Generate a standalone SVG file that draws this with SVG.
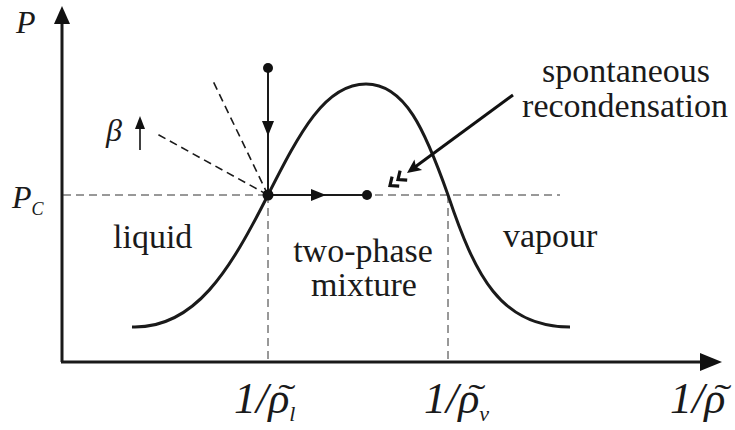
<svg xmlns="http://www.w3.org/2000/svg" width="735" height="430" viewBox="0 0 735 430">
<style>
.t{font-family:"Liberation Serif","Times New Roman",serif;font-size:34px;fill:#1a1a1a}
.m{font-family:"Liberation Serif","Times New Roman",serif;font-style:italic;fill:#1a1a1a}
.ax{stroke:#1a1a1a;stroke-width:3;fill:none}
.dash{stroke:#333;stroke-width:1;stroke-dasharray:8 5;fill:none}
.bdash{stroke:#1a1a1a;stroke-width:1.6;stroke-dasharray:8 5;fill:none}
.ln{stroke:#1a1a1a;stroke-width:2;fill:none}
.dot{fill:#111}
.head{fill:#111}
.chev{stroke:#111;stroke-width:3.2;fill:none;stroke-linejoin:miter}
</style>
<rect width="735" height="430" fill="#fff"/>
<g id="axes">
<line class="ax" x1="62" y1="362" x2="62" y2="22"/>
<polygon class="head" points="62,6 54,24 70,24"/>
<line class="ax" x1="61" y1="362" x2="702" y2="362"/>
<polygon class="head" points="722,362 700,353 700,371"/>
</g>
<g id="guides">
<line class="dash" x1="63" y1="195" x2="560" y2="195"/>
<line class="dash" x1="268" y1="195" x2="268" y2="362"/>
<line class="dash" x1="448" y1="195" x2="448" y2="362"/>
<line class="bdash" x1="268" y1="195" x2="213" y2="81"/>
<line class="bdash" x1="268" y1="195" x2="157" y2="134"/>
</g>
<g id="curve">
<path d="M132,327 C195,329 230,270 268,195 C300,132 325,84 366,84 C405,84 425,130 448,195 C475,275 500,327 570,327" stroke="#1a1a1a" stroke-width="3" fill="none"/>
</g>
<g id="connectors">
<line class="ln" x1="268" y1="68" x2="268" y2="195"/>
<polygon class="head" points="268,136 262,121 274,121"/>
<line class="ln" x1="268" y1="195" x2="367" y2="195"/>
<polygon class="head" points="326,195 311,189 311,201"/>
<line x1="513" y1="95" x2="415" y2="167" stroke="#111" stroke-width="3"/>
<polygon class="head" points="0,0 -14,-6.5 -11,0 -14,6.5" transform="translate(407,173) rotate(143.7)"/>
<polyline class="chev" points="-7,-6 0,0 -7,6" transform="translate(398,179.5) rotate(143.7)"/>
<polyline class="chev" points="-7,-6 0,0 -7,6" transform="translate(390,185.5) rotate(143.7)"/>
<line x1="140" y1="150" x2="140" y2="126" stroke="#111" stroke-width="1.6"/>
<polygon class="head" points="140,116 135,129 145,129"/>
</g>
<g id="points">
<circle class="dot" cx="268" cy="195" r="5.5"/>
<circle class="dot" cx="268" cy="68" r="5"/>
<circle class="dot" cx="367" cy="195" r="5"/>
</g>
<g id="labels">
<text class="m" x="16" y="33" font-size="32">P</text>
<text class="m" x="12" y="208" font-size="32">P<tspan font-size="18" dy="7">C</tspan></text>
<text class="m" x="106" y="141" font-size="32">β</text>
<text class="t" x="113" y="248">liquid</text>
<text class="t" x="363" y="262" text-anchor="middle">two-phase</text>
<text class="t" x="364" y="296" text-anchor="middle">mixture</text>
<text class="t" x="503" y="247">vapour</text>
<text class="t" x="626" y="82" text-anchor="middle">spontaneous</text>
<text class="t" x="625" y="117" text-anchor="middle">recondensation</text>
<text class="m" x="234" y="413" font-size="44">1/ρ<tspan font-size="22" dy="8">l</tspan></text>
<text class="m" x="424" y="413" font-size="44">1/ρ<tspan font-size="22" dy="8">v</tspan></text>
<text class="m" x="670" y="413" font-size="44">1/ρ</text>
<text class="t" font-size="40" transform="translate(287,408) scale(1.5,1)" text-anchor="middle">˜</text>
<text class="t" font-size="40" transform="translate(477,408) scale(1.5,1)" text-anchor="middle">˜</text>
<text class="t" font-size="40" transform="translate(723,408) scale(1.5,1)" text-anchor="middle">˜</text>
</g>
</svg>
